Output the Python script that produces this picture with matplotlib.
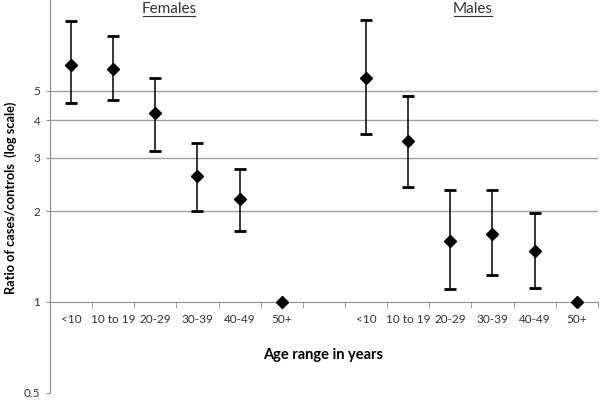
import matplotlib
matplotlib.use("Agg")
import matplotlib.pyplot as plt
import numpy as np

plt.rcParams['font.family'] = ['Lato', 'DejaVu Sans']

age_groups = ["<10", "10 to 19", "20-29", "30-39", "40-49", "50+"]

# females: ratio, lower CI, upper CI (None for the reference group)
fem_ratio = [6.1, 5.9, 4.23, 2.61, 2.19, 1.0]
fem_low = [4.55, 4.65, 3.15, 2.0, 1.72, None]
fem_high = [8.5, 7.6, 5.5, 3.35, 2.75, None]

# males
male_ratio = [5.5, 3.41, 1.59, 1.68, 1.47, 1.0]
male_low = [3.6, 2.41, 1.10, 1.23, 1.11, None]
male_high = [8.6, 4.8, 2.34, 2.34, 1.97, None]

grid_vals = [2, 3, 4, 5]
ytick_vals = [0.5, 1, 2, 3, 4, 5]

fig = plt.figure(figsize=(6, 4), dpi=100)
ax = fig.add_axes([0.0833, 0.018, 0.913, 0.982])

ax.set_yscale('log')
ax.set_ylim(0.5, 10)
ax.set_xlim(-0.5, 12.5)

for g in grid_vals:
    ax.axhline(g, color='#a0a0a0', lw=1.0, zorder=0)

x_f = np.arange(6)
x_m = np.arange(7, 13)

def draw_group(xs, ratio, low, high):
    for x, r, lo, hi in zip(xs, ratio, low, high):
        if lo is not None:
            ax.errorbar(x, r, yerr=[[r - lo], [hi - r]], fmt='none', ecolor='black',
                        elinewidth=1.1, capsize=4.5, capthick=2.0, zorder=2)
    ax.plot(xs, ratio, linestyle='none', marker='D', color='black', markersize=6, zorder=3)

draw_group(x_f, fem_ratio, fem_low, fem_high)
draw_group(x_m, male_ratio, male_low, male_high)

# axes styling
for s in ['top', 'right']:
    ax.spines[s].set_visible(False)
ax.spines['bottom'].set_position(('data', 1))
ax.spines['bottom'].set_color('#909090')
ax.spines['left'].set_color('#909090')

ax.set_yticks(ytick_vals)
ax.set_yticklabels([str(v) for v in ytick_vals], fontsize=8.5, color='#333333')
ax.yaxis.set_minor_locator(matplotlib.ticker.NullLocator())
ax.tick_params(axis='y', length=3, color='#909090', pad=4)

ax.set_xticks(list(x_f) + list(x_m))
ax.set_xticklabels(age_groups + age_groups, fontsize=8.5, color='#333333')
ax.tick_params(axis='x', which='major', length=0, pad=9)
ax.set_xticks(np.arange(-0.5, 13, 1), minor=True)
ax.tick_params(axis='x', which='minor', length=4, color='#909090', direction='out')

fig.text(323 / 600, 1 - 355 / 400, "Age range in years", fontsize=10.5, fontweight='bold',
         ha='center', va='center')
fig.text(11 / 600, 1 - 198 / 400, "Ratio of cases/controls  (log scale)", fontsize=9.2,
         fontweight='bold', rotation=90, ha='center', va='center')

for label, xp, w in [("Females", 169, 52), ("Males", 473, 38)]:
    fig.text(xp / 600, 1 - 9 / 400, label, fontsize=11, ha='center', va='center',
             color='#333333')
    # underline
    fig.add_artist(plt.Line2D([(xp - w / 2) / 600, (xp + w / 2) / 600],
                              [1 - 16 / 400, 1 - 16 / 400], color='#333333', lw=0.8))

fig.savefig("out.png", dpi=100)
